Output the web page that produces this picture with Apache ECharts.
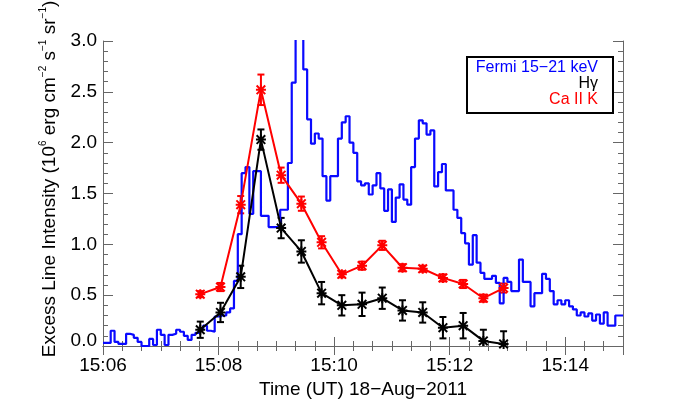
<!DOCTYPE html>
<html>
<head>
<meta charset="utf-8">
<script src="https://cdn.jsdelivr.net/npm/echarts@6/dist/echarts.min.js"></script>
<style>
  html, body { margin: 0; padding: 0; background: #fff; }
  #main { width: 692px; height: 407px; }
</style>
</head>
<body>
<div id="main"></div>
<script>
// observation times of the line measurements (UT)
var obsTimes = ["15:07:41", "15:08:02", "15:08:23", "15:08:44", "15:09:05", "15:09:26",
  "15:09:47", "15:10:08", "15:10:29", "15:10:50", "15:11:11", "15:11:32",
  "15:11:53", "15:12:14", "15:12:35", "15:12:56"];
// H gamma excess intensity and error
var hgValues = [0.16, 0.33, 0.68, 2.03, 1.16, 0.93, 0.52, 0.40, 0.41, 0.47, 0.35, 0.33, 0.18, 0.20, 0.05, 0.02];
var hgErrors = [0.08, 0.095, 0.11, 0.10, 0.10, 0.11, 0.11, 0.10, 0.115, 0.105, 0.10, 0.10, 0.105, 0.125, 0.11, 0.125];
// Ca II K excess intensity and error
var caValues = [0.51, 0.58, 1.39, 2.52, 1.68, 1.40, 1.02, 0.705, 0.79, 0.99, 0.77, 0.76, 0.67, 0.61, 0.47, 0.57];
var caErrors = [0.03, 0.04, 0.085, 0.15, 0.075, 0.07, 0.06, 0.03, 0.04, 0.045, 0.035, 0.03, 0.035, 0.04, 0.035, 0.045];
// Fermi 15-21 keV light curve (scaled), 4 s bins from 15:06:00
var fermiStart = "15:06:00";
var fermiBinSec = 4;
var fermiValues = [
  0.03, 0.03, 0.15, 0.04, 0.02, 0.02, 0.12, 0.11, 0.08, 0.04,
  0.00, 0.00, 0.07, 0.01, 0.16, 0.11, 0.01, 0.11, 0.12, 0.16,
  0.14, 0.10, 0.06, 0.11, 0.13, 0.16, 0.20, 0.15, 0.14, 0.29,
  0.30, 0.30, 0.33, 0.37, 0.64, 1.10, 1.70, 1.76, 1.30, 1.72,
  1.72, 1.28, 1.28, 1.17, 1.17, 1.17, 1.34, 1.34, 1.80, 2.59,
  3.30, 3.20, 2.72, 2.23, 1.99, 2.09, 2.04, 1.67, 1.43, 1.67,
  1.67, 2.04, 2.20, 2.26, 2.00, 1.90, 1.62, 1.58, 1.60, 1.49,
  1.58, 1.70, 1.55, 1.33, 1.54, 1.22, 1.46, 1.59, 1.44, 1.39,
  1.76, 2.04, 2.22, 2.19, 2.08, 2.12, 1.57, 1.71, 1.79, 1.53,
  1.53, 1.34, 1.26, 1.11, 1.01, 0.80, 1.09, 0.82, 0.72, 0.66,
  0.66, 0.69, 0.62, 0.42, 0.67, 0.63, 0.54, 0.54, 0.85, 0.63,
  0.63, 0.39, 0.52, 0.52, 0.71, 0.66, 0.54, 0.41, 0.45, 0.41,
  0.45, 0.39, 0.36, 0.30, 0.33, 0.29, 0.32, 0.25, 0.31, 0.22,
  0.33, 0.20, 0.20, 0.30, 0.30
];
// x axis: seconds after 15:00:00
var xMin = 360, xMax = 900, xStep = 120;
var yMin = 0, yMax = 3, yStep = 0.5;

function toSec(t) {
  var p = t.split(":");
  return (+p[0] - 15) * 3600 + (+p[1]) * 60 + (+p[2]);
}

var obsSec = obsTimes.map(toSec);
var t0 = toSec(fermiStart);
var fermiData = fermiValues.map(function (v, i) { return [t0 + i * fermiBinSec, v]; });
fermiData.push([t0 + fermiValues.length * fermiBinSec, fermiValues[fermiValues.length - 1]]);

var hgData = obsSec.map(function (t, i) { return [t, hgValues[i]]; });
var caData = obsSec.map(function (t, i) { return [t, caValues[i]]; });
var hgErr = obsSec.map(function (t, i) { return [t, hgValues[i] - hgErrors[i], hgValues[i] + hgErrors[i]]; });
var caErr = obsSec.map(function (t, i) { return [t, caValues[i] - caErrors[i], caValues[i] + caErrors[i]]; });

// asterisk marker
var star = "path://M8 0L12 0L12 20L8 20Z M0 8L20 8L20 12L0 12Z " +
  "M0 2.8L2.8 0L20 17.2L17.2 20Z M17.2 0L20 2.8L2.8 20L0 17.2Z";

function errorBars(color) {
  return function (params, api) {
    var x = api.value(0);
    var top = api.coord([x, api.value(2)]);
    var bot = api.coord([x, api.value(1)]);
    var cap = 3.5;
    var st = { stroke: color, lineWidth: 2 };
    return {
      type: "group",
      children: [
        { type: "line", shape: { x1: top[0], y1: top[1], x2: bot[0], y2: bot[1] }, style: st },
        { type: "line", shape: { x1: top[0] - cap, y1: top[1], x2: top[0] + cap, y2: top[1] }, style: st },
        { type: "line", shape: { x1: bot[0] - cap, y1: bot[1], x2: bot[0] + cap, y2: bot[1] }, style: st }
      ]
    };
  };
}

var font = "Liberation Sans";
var frameColor = "#666";

function xAxisCfg(pos, labels) {
  return {
    type: "value", position: pos, min: xMin, max: xMax, interval: xStep,
    name: labels ? "Time (UT) 18\u2212Aug\u22122011" : "",
    nameLocation: "middle", nameGap: 31,
    nameTextStyle: { fontFamily: font, fontSize: 19, color: "#000" },
    axisLine: { show: true, lineStyle: { color: frameColor, width: 1 } },
    axisTick: { show: true, inside: true, length: 9, lineStyle: { color: frameColor } },
    minorTick: { show: true, splitNumber: 6, length: 5, lineStyle: { color: frameColor } },
    splitLine: { show: false },
    axisLabel: {
      show: labels, margin: 10, fontFamily: font, fontSize: 19, color: "#000",
      showMaxLabel: false,
      formatter: function (v) {
        var m = Math.round(v / 60);
        return "15:" + (m < 10 ? "0" + m : m);
      }
    }
  };
}

function yAxisCfg(pos, labels) {
  return {
    type: "value", position: pos, min: yMin, max: yMax, interval: yStep,
    axisLine: { show: true, lineStyle: { color: frameColor, width: 1 } },
    axisTick: { show: true, inside: true, length: 10, lineStyle: { color: frameColor } },
    minorTick: { show: true, splitNumber: 5, length: 5, lineStyle: { color: frameColor } },
    splitLine: { show: false },
    axisLabel: {
      show: labels, margin: 6, fontFamily: font, fontSize: 19, color: "#000",
      formatter: function (v) {
        // bottom label sits a little higher, as in the original plot
        return v === 0 ? "{z|" + v.toFixed(1) + "}" : v.toFixed(1);
      },
      rich: { z: { fontFamily: font, fontSize: 19, color: "#000", padding: [0, 0, 11, 0] } }
    }
  };
}

var myChart = echarts.init(document.getElementById("main"));
var option = {
  animation: false,
  backgroundColor: "#fff",
  grid: { left: 103, right: 69, top: 41, bottom: 61, containLabel: false },
  xAxis: [xAxisCfg("bottom", true), xAxisCfg("top", false)],
  yAxis: [yAxisCfg("left", true), yAxisCfg("right", false)],
  graphic: {
    elements: [
      {
        type: "text", x: 50, y: 179, rotation: Math.PI / 2,
        style: {
          text: "Excess Line Intensity (10{s|6} erg cm{s|\u22122} s{s|\u22121} sr{s|\u22121})",
          fontFamily: font, fontSize: 19, fill: "#000",
          align: "center", verticalAlign: "middle", lineHeight: 24,
          rich: { s: { fontFamily: font, fontSize: 10, lineHeight: 12, verticalAlign: "top", fill: "#000" } }
        }
      },
      {
        type: "rect", shape: { x: 467, y: 57, width: 146, height: 56 },
        style: { fill: "#fff", stroke: "#000", lineWidth: 2 }, z: 10
      },
      {
        type: "text", x: 598, y: 68, z: 11,
        style: { text: "Fermi 15\u221221 keV", fontFamily: font, fontSize: 16, fill: "#0000ff", align: "right", verticalAlign: "middle" }
      },
      {
        type: "text", x: 598, y: 84, z: 11,
        style: { text: "H\u03b3", fontFamily: font, fontSize: 16, fill: "#000", align: "right", verticalAlign: "middle" }
      },
      {
        type: "text", x: 598, y: 100, z: 11,
        style: { text: "Ca II K", fontFamily: font, fontSize: 16, fill: "#ff0000", align: "right", verticalAlign: "middle" }
      }
    ]
  },
  series: [
    {
      name: "Fermi 15-21 keV", type: "line", step: "end", data: fermiData,
      symbol: "none", clip: true,
      lineStyle: { color: "#0a0aff", width: 2.2 }
    },
    {
      name: "Ca II K err", type: "custom", data: caErr, clip: true,
      encode: { x: 0, y: [1, 2] }, renderItem: errorBars("#ff0000")
    },
    {
      name: "Ca II K", type: "line", data: caData, clip: true,
      symbol: star, symbolSize: 10, symbolKeepAspect: true,
      itemStyle: { color: "#ff0000" },
      lineStyle: { color: "#ff0000", width: 2 }
    },
    {
      name: "Hg err", type: "custom", data: hgErr, clip: true,
      encode: { x: 0, y: [1, 2] }, renderItem: errorBars("#000")
    },
    {
      name: "Hg", type: "line", data: hgData, clip: true,
      symbol: star, symbolSize: 10, symbolKeepAspect: true,
      itemStyle: { color: "#000" },
      lineStyle: { color: "#000", width: 2 }
    }
  ]
};
myChart.setOption(option);
window.onresize = myChart.resize;
</script>
</body>
</html>
